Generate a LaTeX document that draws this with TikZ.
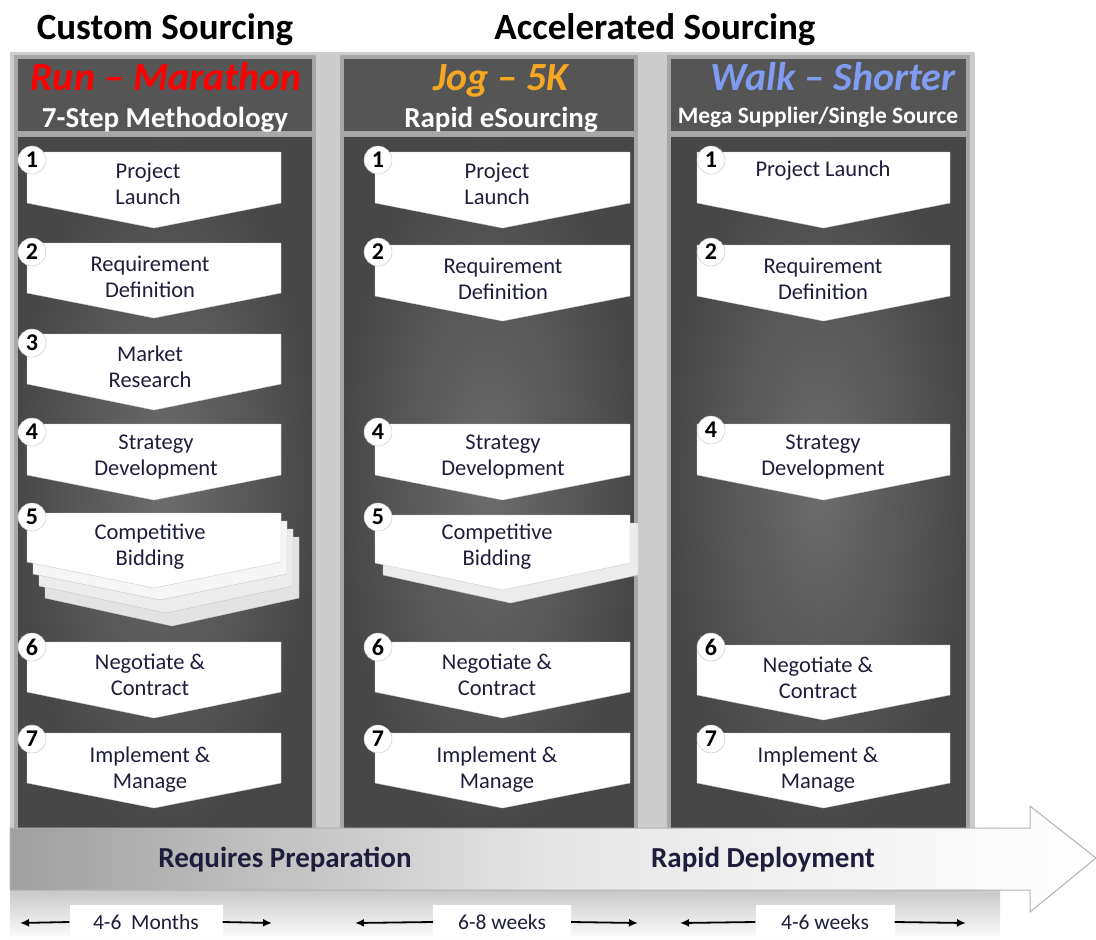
\documentclass[tikz,border=0pt]{standalone}
\usepackage{fontspec}
\setmainfont{Carlito}
\usetikzlibrary{arrows.meta}
\definecolor{txt}{HTML}{1E1E3C}
\definecolor{runred}{HTML}{FF0000}
\definecolor{jogor}{HTML}{F5A623}
\definecolor{walkbl}{HTML}{809CF0}
\definecolor{frame}{HTML}{A8A8A8}
\definecolor{hdr}{HTML}{555555}
\tikzset{
  colframe/.style={fill=frame},
  hdrbox/.style={fill=hdr, draw=gray!70, line width=1.5pt},
  bodybox/.style={inner color=gray!85!black, outer color=black!72, draw=gray!70, line width=1.5pt},
  chevfill/.style={fill=white, draw=gray!40, line width=0.4pt},
  chevtxt/.style={font=\fontsize{22.5}{26}\selectfont, text=txt, align=center},
  badge/.style={circle, fill=white, draw=gray!50, minimum size=28pt, inner sep=0pt, font=\bfseries\fontsize{24}{24}\selectfont, text=black},
  title/.style={font=\bfseries\fontsize{37}{37}\selectfont, text=black, anchor=base},
  runtitle/.style={font=\bfseries\itshape\fontsize{40}{40}\selectfont, anchor=base},
  subtitle/.style={font=\bfseries\fontsize{29}{29}\selectfont, text=white, anchor=base},
  bottomtxt/.style={font=\bfseries\fontsize{29}{29}\selectfont, text=txt, anchor=base},
  timebox/.style={fill=white, minimum height=34pt, font=\fontsize{21.5}{21.5}\selectfont, text=txt},
  timearrow/.style={-{Latex[length=9pt,width=8pt]}, line width=1.8pt, black}
}
% #1 x1, #2 x2, #3 ytop, #4 ysides, #5 ytip, #6 style
\newcommand\chevron[6]{%
  \path[#6] (#1,#3) -- (#2,#3) -- (#2,#4) -- ({(#1+#2)/2},#5) -- (#1,#4) -- cycle;}
\begin{document}
\begin{tikzpicture}[x=1pt,y=-1pt]
\useasboundingbox (0,0) rectangle (1096,940);
% backgrounds
\fill[gray!40] (10,52) rectangle (975,830);
\fill[top color=gray!45, bottom color=white] (10,888) rectangle (1000,940);
% titles
\node[title] (t1) at (165,39) {Custom Sourcing};
\node[title] (t2) at (655,39) {Accelerated Sourcing};
% columns
\foreach \xa/\xb in {14/316, 340/638, 667/970}{
  \fill[colframe] (\xa,55) rectangle (\xb,832);
  \path[hdrbox] (\xa+3,58) rectangle (\xb-3,132);
  \path[bodybox] (\xa+3,136) rectangle (\xb-3,832);
}
% header texts
\node[runtitle, text=runred] (h1) at (166,90) {Run – Marathon};
\node[subtitle] (s1) at (165,127) {7-Step Methodology};
\node[runtitle, text=jogor] (h2) at (501,90) {Jog – 5K};
\node[subtitle] (s2) at (501,127) {Rapid eSourcing};
\node[runtitle, text=walkbl] (h3) at (833,90) {Walk – Shorter};
\node[subtitle, font=\bfseries\fontsize{23.5}{23.5}\selectfont] (s3) at (818,123) {Mega Supplier/Single Source};

% ---------- column 1 ----------
\chevron{27}{281}{152}{203}{228}{chevfill}
\chevron{27}{281}{243}{293}{318}{chevfill}
\chevron{27}{281}{334}{384}{410}{chevfill}
\chevron{27}{281}{424}{475}{500}{chevfill}
\chevron{45}{299}{537}{598}{626}{fill=gray!22, draw=gray!45}
\chevron{39}{293}{529}{586}{613}{fill=gray!15, draw=gray!45}
\chevron{33}{287}{521}{574}{600}{fill=gray!8, draw=gray!45}
\chevron{27}{281}{513}{562}{588}{chevfill}
\chevron{27}{281}{642}{692}{718}{chevfill}
\chevron{27}{281}{733}{783}{808}{chevfill}
\node[chevtxt] (c1a) at (148,184) {Project\\Launch};
\node[chevtxt] (c1b) at (150,277) {Requirement\\Definition};
\node[chevtxt] (c1c) at (150,367) {Market\\Research};
\node[chevtxt] (c1d) at (156,457) {Strategy\\Development};
\node[chevtxt] (c1e) at (150,547) {Competitive\\Bidding};
\node[chevtxt] (c1f) at (150,675) {Negotiate \&\\Contract};
\node[chevtxt] (c1g) at (150,770) {Implement \&\\Manage};
\node[badge] (b11) at (32,160) {1};
\node[badge] (b12) at (32,252) {2};
\node[badge] (b13) at (32,343) {3};
\node[badge] (b14) at (32,432) {4};
\node[badge] (b15) at (32,517) {5};
\node[badge] (b16) at (32,647) {6};
\node[badge] (b17) at (32,739) {7};

% ---------- column 2 ----------
\chevron{375}{630}{152}{203}{228}{chevfill}
\chevron{375}{630}{245}{296}{321}{chevfill}
\chevron{375}{630}{424}{475}{500}{chevfill}
\chevron{383}{638}{523}{575}{603}{fill=gray!15, draw=gray!45}
\chevron{375}{630}{515}{563}{590}{chevfill}
\chevron{375}{630}{642}{692}{718}{chevfill}
\chevron{375}{630}{733}{783}{808}{chevfill}
\node[chevtxt] (c2a) at (497,184) {Project\\Launch};
\node[chevtxt] (c2b) at (503,279) {Requirement\\Definition};
\node[chevtxt] (c2d) at (503,457) {Strategy\\Development};
\node[chevtxt] (c2e) at (497,547) {Competitive\\Bidding};
\node[chevtxt] (c2f) at (497,675) {Negotiate \&\\Contract};
\node[chevtxt] (c2g) at (497,770) {Implement \&\\Manage};
\node[badge] (b21) at (378,160) {1};
\node[badge] (b22) at (378,252) {2};
\node[badge] (b24) at (378,432) {4};
\node[badge] (b25) at (378,517) {5};
\node[badge] (b26) at (378,647) {6};
\node[badge] (b27) at (378,739) {7};

% ---------- column 3 ----------
\chevron{697}{950}{152}{203}{228}{chevfill}
\chevron{697}{950}{245}{296}{321}{chevfill}
\chevron{697}{950}{424}{475}{500}{chevfill}
\chevron{697}{950}{645}{695}{720}{chevfill}
\chevron{697}{950}{733}{783}{808}{chevfill}
\node[chevtxt] (c3a) at (823,171) {Project Launch};
\node[chevtxt] (c3b) at (823,279) {Requirement\\Definition};
\node[chevtxt] (c3d) at (823,457) {Strategy\\Development};
\node[chevtxt] (c3f) at (818,678) {Negotiate \&\\Contract};
\node[chevtxt] (c3g) at (818,770) {Implement \&\\Manage};
\node[badge] (b31) at (711,160) {1};
\node[badge] (b32) at (711,252) {2};
\node[badge] (b34) at (711,430) {4};
\node[badge] (b36) at (711,647) {6};
\node[badge] (b37) at (711,739) {7};

% ---------- big arrow ----------
\path[left color=gray!75, right color=white, middle color=gray!20, draw=gray!60, line width=1pt]
  (10,828) -- (1030,828) -- (1030,806) -- (1096,858) -- (1030,912) -- (1030,890) -- (10,890) -- cycle;
\node[bottomtxt] (rp) at (285,867) {Requires Preparation};
\node[bottomtxt] (rd) at (763,867) {Rapid Deployment};

% ---------- time labels ----------
\node[timebox, minimum width=153pt] (m1) at (146,922) {4-6\ \ Months};
\node[timebox, minimum width=138pt] (m2) at (502,922) {6-8 weeks};
\node[timebox, minimum width=139pt] (m3) at (825,922) {4-6 weeks};
\coordinate (l1) at (20,923); \coordinate (r1) at (272,923);
\coordinate (l2) at (355,923); \coordinate (r2) at (638,923);
\coordinate (l3) at (680,923); \coordinate (r3) at (966,923);
\draw[timearrow] (m1.west) -- (l1);
\draw[timearrow] (m1.east) -- (r1);
\draw[timearrow] (m2.west) -- (l2);
\draw[timearrow] (m2.east) -- (r2);
\draw[timearrow] (m3.west) -- (l3);
\draw[timearrow] (m3.east) -- (r3);
\end{tikzpicture}
\end{document}
